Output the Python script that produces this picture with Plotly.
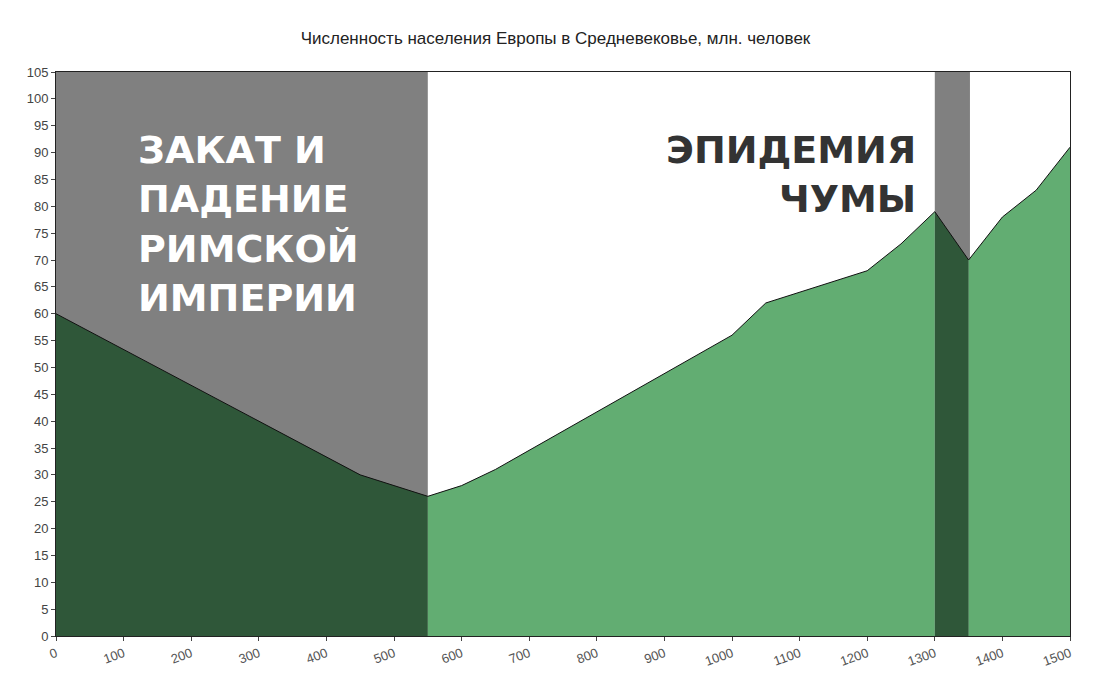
import plotly.graph_objects as go

years = [0, 450, 550, 600, 650, 1000, 1050, 1200, 1250, 1300, 1350, 1400, 1450, 1500]
pop = [60, 30, 26, 28, 31, 56, 62, 68, 73, 79, 70, 78, 83, 91]
x_ticks = list(range(0, 1501, 100))
y_ticks = list(range(0, 106, 5))

DARK = "#2f5739"
LIGHT = "#62ad72"
GRAY = "#808080"

def seg(a, b):
    xs = [x for x in years if a <= x <= b]
    ys = [pop[years.index(x)] for x in xs]
    return xs, ys

fig = go.Figure()
for (a, b, c) in [(0, 550, DARK), (550, 1300, LIGHT), (1300, 1350, DARK), (1350, 1500, LIGHT)]:
    xs, ys = seg(a, b)
    fig.add_trace(go.Scatter(x=xs, y=ys, fill="tozeroy", fillcolor=c, mode="none",
                             hoverinfo="skip", showlegend=False))
fig.add_trace(go.Scatter(x=years, y=pop, mode="lines", line=dict(color="#111", width=1),
                         showlegend=False))

for a, b in [(0, 550), (1300, 1352)]:
    fig.add_shape(type="rect", x0=a, x1=b, y0=0, y1=105, fillcolor=GRAY, line_width=0, layer="below")

fig.add_annotation(x=118, y=95, xanchor="left", yanchor="top", align="left", showarrow=False,
                   text="ЗАКАТ И<br>ПАДЕНИЕ<br>РИМСКОЙ<br>ИМПЕРИИ",
                   font=dict(family="DejaVu Sans", size=38, color="white", weight="bold"))
fig.add_annotation(x=1275, y=95, xanchor="right", yanchor="top", align="right", showarrow=False,
                   text="ЭПИДЕМИЯ<br>ЧУМЫ",
                   font=dict(family="DejaVu Sans", size=38, color="#333333", weight="bold"))

fig.update_layout(
    width=1095, height=683, plot_bgcolor="white", paper_bgcolor="white",
    margin=dict(l=48, r=33, t=64, b=55),
    title=dict(text="Численность населения Европы в Средневековье, млн. человек", x=0.5, y=0.965,
               font=dict(family="Arial", size=17, color="#222")),
    font=dict(family="Arial", color="#444"),
)
fig.update_xaxes(range=[0, 1500], tickvals=x_ticks, tickangle=-20, showgrid=False,
                 showline=True, linecolor="#222", ticks="outside", ticklen=4,
                 tickfont=dict(size=13, color="#555"), zeroline=False, mirror=True)
fig.update_yaxes(range=[0, 105], tickvals=y_ticks, showgrid=False, showline=True,
                 linecolor="#222", ticks="outside", ticklen=4, mirror=True,
                 tickfont=dict(size=13, color="#444"), zeroline=False)
fig.write_html("out.html")
